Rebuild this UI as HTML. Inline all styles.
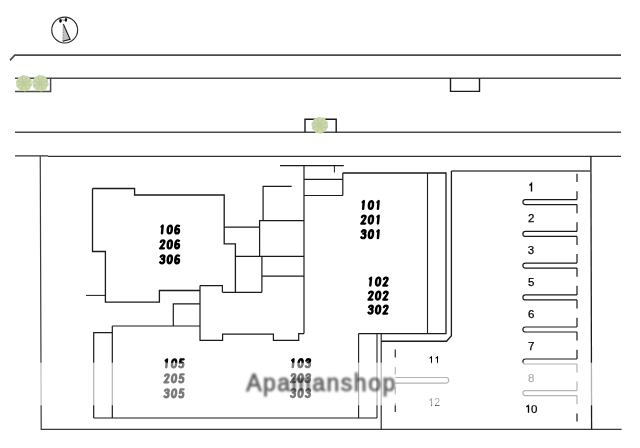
<!DOCTYPE html>
<html><head><meta charset="utf-8"><style>
html,body{margin:0;padding:0;background:#fff;}
body{width:640px;height:448px;overflow:hidden;position:relative;}
svg{position:absolute;left:0;top:0;}
text{font-family:"Liberation Sans",sans-serif;}
.g{filter:url(#nf)}
</style></head><body>
<svg width="640" height="448" viewBox="0 0 640 448">
<defs><filter id="nf" x="-0.05" y="-0.05" width="1.1" height="1.1"><feOffset dx="0" dy="0"/></filter>
<filter id="bl" x="-5%" y="-20%" width="110%" height="140%"><feGaussianBlur stdDeviation="0.85"/></filter></defs>
<rect width="640" height="448" fill="#fff"/>
<path d="M10,60.4 L14.75,55.15 L621,55.15" stroke="#4a4a4a" stroke-width="1.6" fill="none"/><path d="M15,78.3 L621,78.3" stroke="#4a4a4a" stroke-width="1.6" fill="none"/><path d="M15,91.5 L50.6,91.5 L50.6,78.3" stroke="#4a4a4a" stroke-width="1.5" fill="none"/><path d="M450.5,78 L450.5,91.4 L479.5,91.4 L479.5,78.3" stroke="#1a1a1a" stroke-width="1.4" fill="none"/><path d="M15,132.3 L621,132.3" stroke="#4a4a4a" stroke-width="1.6" fill="none"/><path d="M305,132.3 L305,119.25 L336.2,119.25 L336.2,132.3" stroke="#1a1a1a" stroke-width="1.4" fill="none"/><path d="M15,155.9 L48,155.9" stroke="#303030" stroke-width="1.25" fill="none"/><path d="M48,156.45 L621,156.45" stroke="#303030" stroke-width="1.25" fill="none"/><path d="M40.25,156 L41.2,429.35 L621.6,429.35" stroke="#3a3a3a" stroke-width="1.2" fill="none"/><path d="M590.9,156 L591.6,429.3" stroke="#1a1a1a" stroke-width="1.3" fill="none"/><path d="M451.4,171 L591,171" stroke="#4a4a4a" stroke-width="1.7" fill="none"/><path d="M451.4,171 L451.4,335.8 L446.6,341.25 L381.2,341.25" stroke="#1a1a1a" stroke-width="1.3" fill="none"/><path d="M92.5,188.5 L134.6,188.5 L134.6,195 L224.2,195 L224.2,243.8 L235.4,243.8 L235.4,292.3" stroke="#1a1a1a" stroke-width="1.3" fill="none"/><path d="M92.5,188.5 L92.5,251.5 L105.4,251.5 L105.4,302.2 L159.4,302.2 L159.4,290.5 L200,290.5" stroke="#1a1a1a" stroke-width="1.3" fill="none"/><path d="M86,295.4 L105.4,295.4" stroke="#1a1a1a" stroke-width="1.0" fill="none"/><path d="M224.2,227.2 L259.6,227.2" stroke="#1a1a1a" stroke-width="1.2" fill="none"/><path d="M291.7,186.4 L263.1,186.4 L263.1,220.6" stroke="#1a1a1a" stroke-width="1.2" fill="none"/><path d="M304,220.6 L259.6,220.6 L259.6,256.3" stroke="#1a1a1a" stroke-width="1.2" fill="none"/><path d="M235.4,256.3 L304,256.3" stroke="#1a1a1a" stroke-width="1.2" fill="none"/><path d="M261.9,256.3 L261.9,292.3" stroke="#1a1a1a" stroke-width="1.2" fill="none"/><path d="M261.9,276.2 L304,276.2" stroke="#1a1a1a" stroke-width="1.2" fill="none"/><path d="M222.4,292.3 L261.9,292.3" stroke="#1a1a1a" stroke-width="1.2" fill="none"/><path d="M200,285.6 L222.4,285.6 L222.4,292.3" stroke="#1a1a1a" stroke-width="1.2" fill="none"/><path d="M200,285.6 L200,340.3 L222.6,340.3 L222.6,334.1 L273.4,334.1 L273.4,340.3 L298.7,340.3 L298.7,333.6 L304,333.6" stroke="#1a1a1a" stroke-width="1.2" fill="none"/><path d="M173.3,326 L173.3,303.9 L200,303.9" stroke="#1a1a1a" stroke-width="1.2" fill="none"/><path d="M112.3,326 L200,326" stroke="#1a1a1a" stroke-width="1.2" fill="none"/><path d="M93.7,418 L93.7,332.7 L112.3,332.7" stroke="#1a1a1a" stroke-width="1.2" fill="none"/><path d="M93.7,418 L377,418" stroke="#1a1a1a" stroke-width="1.2" fill="none"/><path d="M112.3,326 L112.3,418" stroke="#1a1a1a" stroke-width="1.2" fill="none"/><path d="M304,165.6 L304,333.6" stroke="#1a1a1a" stroke-width="1.2" fill="none"/><path d="M280,165.6 L343.8,165.6" stroke="#1a1a1a" stroke-width="1.2" fill="none"/><path d="M334.4,165.6 L334.4,172.5" stroke="#1a1a1a" stroke-width="1.0" fill="none"/><path d="M304,179.4 L342.8,179.4" stroke="#1a1a1a" stroke-width="1.2" fill="none"/><path d="M304,195.5 L342.8,195.5" stroke="#1a1a1a" stroke-width="1.2" fill="none"/><path d="M342.8,173 L342.8,195.5" stroke="#1a1a1a" stroke-width="1.2" fill="none"/><path d="M342.8,173 L446,173 L446,333.6 L358.6,333.6" stroke="#1a1a1a" stroke-width="1.3" fill="none"/><path d="M427.5,173 L427.5,333.6" stroke="#1a1a1a" stroke-width="1.1" fill="none"/><path d="M358.6,333.6 L358.6,418" stroke="#1a1a1a" stroke-width="1.1" fill="none"/><path d="M377,333.6 L377,418" stroke="#1a1a1a" stroke-width="1.1" fill="none"/><path d="M381.2,333.6 L381.2,429.3" stroke="#1a1a1a" stroke-width="1.1" fill="none"/><path d="M395.25,349.4 L395.25,357.5" stroke="#1a1a1a" stroke-width="1.1" fill="none"/><path d="M395.25,366.9 L395.25,374.4" stroke="#1a1a1a" stroke-width="1.1" fill="none"/><path d="M395.25,386.9 L395.25,394.4" stroke="#1a1a1a" stroke-width="1.1" fill="none"/><path d="M395.25,403 L395.25,411.9" stroke="#1a1a1a" stroke-width="1.1" fill="none"/><path d="M395.3,377.5 L446,377.5 A2.8,2.8 0 0 1 446,383.1 L395.3,383.1" stroke="#1a1a1a" stroke-width="1.1" fill="none"/><path d="M577,199.6 L525.4,199.6 A2.5,2.5 0 0 0 525.4,204.6 L577,204.6" stroke="#1a1a1a" stroke-width="1.2" fill="none"/><path d="M577,231.4 L525.4,231.4 A2.5,2.5 0 0 0 525.4,236.4 L577,236.4" stroke="#1a1a1a" stroke-width="1.2" fill="none"/><path d="M577,263.1 L525.4,263.1 A2.5,2.5 0 0 0 525.4,268.1 L577,268.1" stroke="#1a1a1a" stroke-width="1.2" fill="none"/><path d="M577,294.9 L525.4,294.9 A2.5,2.5 0 0 0 525.4,299.9 L577,299.9" stroke="#1a1a1a" stroke-width="1.2" fill="none"/><path d="M577,327 L525.4,327 A2.5,2.5 0 0 0 525.4,332 L577,332" stroke="#1a1a1a" stroke-width="1.2" fill="none"/><path d="M577,359 L525.4,359 A2.5,2.5 0 0 0 525.4,364 L577,364" stroke="#1a1a1a" stroke-width="1.2" fill="none"/><path d="M577,390.6 L525.4,390.6 A2.5,2.5 0 0 0 525.4,395.6 L577,395.6" stroke="#1a1a1a" stroke-width="1.2" fill="none"/><path d="M577,173.75 L577,181.9" stroke="#1a1a1a" stroke-width="1.2" fill="none"/><path d="M577,191.25 L577,199.6" stroke="#1a1a1a" stroke-width="1.2" fill="none"/><path d="M577,204.6 L577,213.2" stroke="#1a1a1a" stroke-width="1.2" fill="none"/><path d="M577,222.20000000000002 L577,231.4" stroke="#1a1a1a" stroke-width="1.2" fill="none"/><path d="M577,236.4 L577,245.0" stroke="#1a1a1a" stroke-width="1.2" fill="none"/><path d="M577,253.90000000000003 L577,263.1" stroke="#1a1a1a" stroke-width="1.2" fill="none"/><path d="M577,268.1 L577,276.70000000000005" stroke="#1a1a1a" stroke-width="1.2" fill="none"/><path d="M577,285.7 L577,294.9" stroke="#1a1a1a" stroke-width="1.2" fill="none"/><path d="M577,299.9 L577,308.5" stroke="#1a1a1a" stroke-width="1.2" fill="none"/><path d="M577,317.8 L577,327" stroke="#1a1a1a" stroke-width="1.2" fill="none"/><path d="M577,332 L577,340.6" stroke="#1a1a1a" stroke-width="1.2" fill="none"/><path d="M577,349.8 L577,359" stroke="#1a1a1a" stroke-width="1.2" fill="none"/><path d="M577,364 L577,372.6" stroke="#1a1a1a" stroke-width="1.2" fill="none"/><path d="M577,381.40000000000003 L577,390.6" stroke="#1a1a1a" stroke-width="1.2" fill="none"/><path d="M577,395.6 L577,404.20000000000005" stroke="#1a1a1a" stroke-width="1.2" fill="none"/><path d="M577,413.5 L577,421.6" stroke="#1a1a1a" stroke-width="1.2" fill="none"/>
<circle cx="24" cy="83.2" r="7.8" fill="#cad7aa"/><circle cx="30.57" cy="84.53" r="1.56" fill="#cad7aa"/><circle cx="28.54" cy="88.14" r="1.56" fill="#cad7aa"/><circle cx="24.76" cy="89.86" r="1.56" fill="#cad7aa"/><circle cx="20.70" cy="89.04" r="1.56" fill="#cad7aa"/><circle cx="17.90" cy="85.99" r="1.56" fill="#cad7aa"/><circle cx="17.43" cy="81.87" r="1.56" fill="#cad7aa"/><circle cx="19.46" cy="78.26" r="1.56" fill="#cad7aa"/><circle cx="23.24" cy="76.54" r="1.56" fill="#cad7aa"/><circle cx="27.30" cy="77.36" r="1.56" fill="#cad7aa"/><circle cx="30.10" cy="80.41" r="1.56" fill="#cad7aa"/><line x1="24.72" y1="83.50" x2="30.47" y2="85.93" stroke="#a9b98a" stroke-width="0.55"/><line x1="24.29" y1="83.92" x2="26.64" y2="89.71" stroke="#a9b98a" stroke-width="0.55"/><line x1="23.70" y1="83.92" x2="21.27" y2="89.67" stroke="#a9b98a" stroke-width="0.55"/><line x1="23.28" y1="83.49" x2="17.49" y2="85.84" stroke="#a9b98a" stroke-width="0.55"/><line x1="23.28" y1="82.90" x2="17.53" y2="80.47" stroke="#a9b98a" stroke-width="0.55"/><line x1="23.71" y1="82.48" x2="21.36" y2="76.69" stroke="#a9b98a" stroke-width="0.55"/><line x1="24.30" y1="82.48" x2="26.73" y2="76.73" stroke="#a9b98a" stroke-width="0.55"/><line x1="24.72" y1="82.91" x2="30.51" y2="80.56" stroke="#a9b98a" stroke-width="0.55"/><circle cx="40.4" cy="83.2" r="7.9" fill="#cad7aa"/><circle cx="47.06" cy="84.55" r="1.58" fill="#cad7aa"/><circle cx="44.99" cy="88.21" r="1.58" fill="#cad7aa"/><circle cx="41.17" cy="89.95" r="1.58" fill="#cad7aa"/><circle cx="37.06" cy="89.12" r="1.58" fill="#cad7aa"/><circle cx="34.22" cy="86.02" r="1.58" fill="#cad7aa"/><circle cx="33.74" cy="81.85" r="1.58" fill="#cad7aa"/><circle cx="35.81" cy="78.19" r="1.58" fill="#cad7aa"/><circle cx="39.63" cy="76.45" r="1.58" fill="#cad7aa"/><circle cx="43.74" cy="77.28" r="1.58" fill="#cad7aa"/><circle cx="46.58" cy="80.38" r="1.58" fill="#cad7aa"/><line x1="41.13" y1="83.51" x2="46.95" y2="85.97" stroke="#a9b98a" stroke-width="0.55"/><line x1="40.70" y1="83.93" x2="43.07" y2="89.79" stroke="#a9b98a" stroke-width="0.55"/><line x1="40.09" y1="83.93" x2="37.63" y2="89.75" stroke="#a9b98a" stroke-width="0.55"/><line x1="39.67" y1="83.50" x2="33.81" y2="85.87" stroke="#a9b98a" stroke-width="0.55"/><line x1="39.67" y1="82.89" x2="33.85" y2="80.43" stroke="#a9b98a" stroke-width="0.55"/><line x1="40.10" y1="82.47" x2="37.73" y2="76.61" stroke="#a9b98a" stroke-width="0.55"/><line x1="40.71" y1="82.47" x2="43.17" y2="76.65" stroke="#a9b98a" stroke-width="0.55"/><line x1="41.13" y1="82.90" x2="46.99" y2="80.53" stroke="#a9b98a" stroke-width="0.55"/><circle cx="319.8" cy="125.3" r="8.1" fill="#cad7aa"/><circle cx="326.63" cy="126.68" r="1.62" fill="#cad7aa"/><circle cx="324.51" cy="130.43" r="1.62" fill="#cad7aa"/><circle cx="320.59" cy="132.22" r="1.62" fill="#cad7aa"/><circle cx="316.37" cy="131.37" r="1.62" fill="#cad7aa"/><circle cx="313.46" cy="128.19" r="1.62" fill="#cad7aa"/><circle cx="312.97" cy="123.92" r="1.62" fill="#cad7aa"/><circle cx="315.09" cy="120.17" r="1.62" fill="#cad7aa"/><circle cx="319.01" cy="118.38" r="1.62" fill="#cad7aa"/><circle cx="323.23" cy="119.23" r="1.62" fill="#cad7aa"/><circle cx="326.14" cy="122.41" r="1.62" fill="#cad7aa"/><line x1="320.55" y1="125.62" x2="326.51" y2="128.14" stroke="#a9b98a" stroke-width="0.55"/><line x1="320.10" y1="126.05" x2="322.54" y2="132.06" stroke="#a9b98a" stroke-width="0.55"/><line x1="319.48" y1="126.05" x2="316.96" y2="132.01" stroke="#a9b98a" stroke-width="0.55"/><line x1="319.05" y1="125.60" x2="313.04" y2="128.04" stroke="#a9b98a" stroke-width="0.55"/><line x1="319.05" y1="124.98" x2="313.09" y2="122.46" stroke="#a9b98a" stroke-width="0.55"/><line x1="319.50" y1="124.55" x2="317.06" y2="118.54" stroke="#a9b98a" stroke-width="0.55"/><line x1="320.12" y1="124.55" x2="322.64" y2="118.59" stroke="#a9b98a" stroke-width="0.55"/><line x1="320.55" y1="125.00" x2="326.56" y2="122.56" stroke="#a9b98a" stroke-width="0.55"/>

<circle cx="64.7" cy="30.05" r="12.95" fill="none" stroke="#2a2a2a" stroke-width="1.15"/>
<polygon points="63.3,24 70.1,39.4 62.8,41.3" fill="#c0c0c0" stroke="none"/>
<path d="M63.3,24 L70.1,39.4 L62.8,41.3" fill="none" stroke="#1a1a1a" stroke-width="1.1"/>
<path d="M63.3,24 L62.8,41.3" fill="none" stroke="#666" stroke-width="0.7" stroke-dasharray="1,0.6"/>
<ellipse cx="60.5" cy="20.8" rx="1.35" ry="1.85" fill="#0a0a0a"/>
<ellipse cx="65.95" cy="19.8" rx="1.25" ry="1.9" fill="#0a0a0a"/>
<path d="M61.3,19.6 L65.2,20.6" stroke="#666" stroke-width="0.8"/>

<g class="g"><path d="M529.5,185.4 L531.5,183.5 L531.5,191.4" stroke="#000" stroke-width="1.4" fill="none" stroke-linejoin="miter"/><text x="531.15" y="221.7" font-size="11.5" fill="#000" text-anchor="middle" stroke="#000" stroke-width="0.25">2</text><text x="531.05" y="253.6" font-size="11.5" fill="#000" text-anchor="middle" stroke="#000" stroke-width="0.25">3</text><text x="531.15" y="285.9" font-size="11.5" fill="#000" text-anchor="middle" stroke="#000" stroke-width="0.25">5</text><text x="531.15" y="317.9" font-size="11.5" fill="#000" text-anchor="middle" stroke="#000" stroke-width="0.25">6</text><text x="531.3" y="349.6" font-size="11.5" fill="#000" text-anchor="middle" stroke="#000" stroke-width="0.25">7</text><text x="531.1" y="381.8" font-size="11.5" fill="#000" text-anchor="middle" stroke="#000" stroke-width="0.25">8</text><path d="M526.4,406.9 L528.5,405.0 L528.5,412.8" stroke="#000" stroke-width="1.35" fill="none" stroke-linejoin="miter"/><text x="534.3" y="412.8" font-size="11.5" fill="#000" text-anchor="middle" stroke="#000" stroke-width="0.25">0</text><path d="M429.6,358.4 L431.5,356.8 L431.5,363.6" stroke="#000" stroke-width="1.05" fill="none" stroke-linejoin="miter"/><path d="M435.6,358.4 L437.5,356.8 L437.5,363.6" stroke="#000" stroke-width="1.05" fill="none" stroke-linejoin="miter"/><path d="M429.6,400.5 L431.5,398.9 L431.5,405.8" stroke="#000" stroke-width="1.05" fill="none" stroke-linejoin="miter"/><text x="437.3" y="405.8" font-size="10" fill="#000" text-anchor="middle" >2</text></g>
<rect x="0" y="362.7" width="640" height="42.6" fill="#fff" fill-opacity="0.37"/>
<g transform="translate(158.95,234.50) skewX(-5)" fill="none" stroke="#000" stroke-width="2.3" stroke-linecap="round" stroke-linejoin="round"><path transform="translate(0.00,0) scale(1.07,1)" d="M1.75,-7.85 L2.75,-8.95 L2.75,-1.05"/><path transform="translate(7.40,0) scale(1.07,1)" d="M2.8,-8.95 C1.6,-8.95 0.9,-7.2 0.9,-5 C0.9,-2.8 1.6,-1.05 2.8,-1.05 C4.0,-1.05 4.7,-2.8 4.7,-5 C4.7,-7.2 4.0,-8.95 2.8,-8.95 Z"/><path transform="translate(14.80,0) scale(1.07,1)" d="M4.2,-8.55 C3.85,-8.85 3.4,-8.95 2.95,-8.95 C1.75,-8.95 1.05,-7.2 1.05,-4.6 C1.05,-2.4 1.7,-1.05 2.85,-1.05 C3.9,-1.05 4.6,-2.0 4.6,-3.3 C4.6,-4.6 3.9,-5.5 2.85,-5.5 C2.0,-5.5 1.35,-4.95 1.1,-4.1"/></g><g transform="translate(158.95,249.40) skewX(-5)" fill="none" stroke="#000" stroke-width="2.3" stroke-linecap="round" stroke-linejoin="round"><path transform="translate(0.00,0) scale(1.07,1)" d="M1.15,-7.5 C1.35,-8.45 2.0,-8.95 2.8,-8.95 C3.8,-8.95 4.5,-8.3 4.5,-7.3 C4.5,-6.2 3.7,-5.1 1.1,-1.05 L4.6,-1.05"/><path transform="translate(7.40,0) scale(1.07,1)" d="M2.8,-8.95 C1.6,-8.95 0.9,-7.2 0.9,-5 C0.9,-2.8 1.6,-1.05 2.8,-1.05 C4.0,-1.05 4.7,-2.8 4.7,-5 C4.7,-7.2 4.0,-8.95 2.8,-8.95 Z"/><path transform="translate(14.80,0) scale(1.07,1)" d="M4.2,-8.55 C3.85,-8.85 3.4,-8.95 2.95,-8.95 C1.75,-8.95 1.05,-7.2 1.05,-4.6 C1.05,-2.4 1.7,-1.05 2.85,-1.05 C3.9,-1.05 4.6,-2.0 4.6,-3.3 C4.6,-4.6 3.9,-5.5 2.85,-5.5 C2.0,-5.5 1.35,-4.95 1.1,-4.1"/></g><g transform="translate(158.95,264.30) skewX(-5)" fill="none" stroke="#000" stroke-width="2.3" stroke-linecap="round" stroke-linejoin="round"><path transform="translate(0.00,0) scale(1.07,1)" d="M1.1,-7.6 C1.4,-8.5 2.0,-8.95 2.8,-8.95 C3.8,-8.95 4.45,-8.3 4.45,-7.35 C4.45,-6.3 3.7,-5.5 2.5,-5.5 C3.8,-5.5 4.6,-4.6 4.6,-3.3 C4.6,-1.9 3.8,-1.05 2.7,-1.05 C1.9,-1.05 1.3,-1.4 1.0,-2.0"/><path transform="translate(7.40,0) scale(1.07,1)" d="M2.8,-8.95 C1.6,-8.95 0.9,-7.2 0.9,-5 C0.9,-2.8 1.6,-1.05 2.8,-1.05 C4.0,-1.05 4.7,-2.8 4.7,-5 C4.7,-7.2 4.0,-8.95 2.8,-8.95 Z"/><path transform="translate(14.80,0) scale(1.07,1)" d="M4.2,-8.55 C3.85,-8.85 3.4,-8.95 2.95,-8.95 C1.75,-8.95 1.05,-7.2 1.05,-4.6 C1.05,-2.4 1.7,-1.05 2.85,-1.05 C3.9,-1.05 4.6,-2.0 4.6,-3.3 C4.6,-4.6 3.9,-5.5 2.85,-5.5 C2.0,-5.5 1.35,-4.95 1.1,-4.1"/></g><g transform="translate(360.10,210.00) skewX(-5)" fill="none" stroke="#000" stroke-width="2.3" stroke-linecap="round" stroke-linejoin="round"><path transform="translate(0.00,0) scale(1.07,1)" d="M1.75,-7.85 L2.75,-8.95 L2.75,-1.05"/><path transform="translate(7.40,0) scale(1.07,1)" d="M2.8,-8.95 C1.6,-8.95 0.9,-7.2 0.9,-5 C0.9,-2.8 1.6,-1.05 2.8,-1.05 C4.0,-1.05 4.7,-2.8 4.7,-5 C4.7,-7.2 4.0,-8.95 2.8,-8.95 Z"/><path transform="translate(14.80,0) scale(1.07,1)" d="M1.75,-7.85 L2.75,-8.95 L2.75,-1.05"/></g><g transform="translate(360.10,224.60) skewX(-5)" fill="none" stroke="#000" stroke-width="2.3" stroke-linecap="round" stroke-linejoin="round"><path transform="translate(0.00,0) scale(1.07,1)" d="M1.15,-7.5 C1.35,-8.45 2.0,-8.95 2.8,-8.95 C3.8,-8.95 4.5,-8.3 4.5,-7.3 C4.5,-6.2 3.7,-5.1 1.1,-1.05 L4.6,-1.05"/><path transform="translate(7.40,0) scale(1.07,1)" d="M2.8,-8.95 C1.6,-8.95 0.9,-7.2 0.9,-5 C0.9,-2.8 1.6,-1.05 2.8,-1.05 C4.0,-1.05 4.7,-2.8 4.7,-5 C4.7,-7.2 4.0,-8.95 2.8,-8.95 Z"/><path transform="translate(14.80,0) scale(1.07,1)" d="M1.75,-7.85 L2.75,-8.95 L2.75,-1.05"/></g><g transform="translate(360.10,239.20) skewX(-5)" fill="none" stroke="#000" stroke-width="2.3" stroke-linecap="round" stroke-linejoin="round"><path transform="translate(0.00,0) scale(1.07,1)" d="M1.1,-7.6 C1.4,-8.5 2.0,-8.95 2.8,-8.95 C3.8,-8.95 4.45,-8.3 4.45,-7.35 C4.45,-6.3 3.7,-5.5 2.5,-5.5 C3.8,-5.5 4.6,-4.6 4.6,-3.3 C4.6,-1.9 3.8,-1.05 2.7,-1.05 C1.9,-1.05 1.3,-1.4 1.0,-2.0"/><path transform="translate(7.40,0) scale(1.07,1)" d="M2.8,-8.95 C1.6,-8.95 0.9,-7.2 0.9,-5 C0.9,-2.8 1.6,-1.05 2.8,-1.05 C4.0,-1.05 4.7,-2.8 4.7,-5 C4.7,-7.2 4.0,-8.95 2.8,-8.95 Z"/><path transform="translate(14.80,0) scale(1.07,1)" d="M1.75,-7.85 L2.75,-8.95 L2.75,-1.05"/></g><g transform="translate(367.30,286.60) skewX(-5)" fill="none" stroke="#000" stroke-width="2.3" stroke-linecap="round" stroke-linejoin="round"><path transform="translate(0.00,0) scale(1.07,1)" d="M1.75,-7.85 L2.75,-8.95 L2.75,-1.05"/><path transform="translate(7.40,0) scale(1.07,1)" d="M2.8,-8.95 C1.6,-8.95 0.9,-7.2 0.9,-5 C0.9,-2.8 1.6,-1.05 2.8,-1.05 C4.0,-1.05 4.7,-2.8 4.7,-5 C4.7,-7.2 4.0,-8.95 2.8,-8.95 Z"/><path transform="translate(14.80,0) scale(1.07,1)" d="M1.15,-7.5 C1.35,-8.45 2.0,-8.95 2.8,-8.95 C3.8,-8.95 4.5,-8.3 4.5,-7.3 C4.5,-6.2 3.7,-5.1 1.1,-1.05 L4.6,-1.05"/></g><g transform="translate(367.30,300.60) skewX(-5)" fill="none" stroke="#000" stroke-width="2.3" stroke-linecap="round" stroke-linejoin="round"><path transform="translate(0.00,0) scale(1.07,1)" d="M1.15,-7.5 C1.35,-8.45 2.0,-8.95 2.8,-8.95 C3.8,-8.95 4.5,-8.3 4.5,-7.3 C4.5,-6.2 3.7,-5.1 1.1,-1.05 L4.6,-1.05"/><path transform="translate(7.40,0) scale(1.07,1)" d="M2.8,-8.95 C1.6,-8.95 0.9,-7.2 0.9,-5 C0.9,-2.8 1.6,-1.05 2.8,-1.05 C4.0,-1.05 4.7,-2.8 4.7,-5 C4.7,-7.2 4.0,-8.95 2.8,-8.95 Z"/><path transform="translate(14.80,0) scale(1.07,1)" d="M1.15,-7.5 C1.35,-8.45 2.0,-8.95 2.8,-8.95 C3.8,-8.95 4.5,-8.3 4.5,-7.3 C4.5,-6.2 3.7,-5.1 1.1,-1.05 L4.6,-1.05"/></g><g transform="translate(367.30,314.60) skewX(-5)" fill="none" stroke="#000" stroke-width="2.3" stroke-linecap="round" stroke-linejoin="round"><path transform="translate(0.00,0) scale(1.07,1)" d="M1.1,-7.6 C1.4,-8.5 2.0,-8.95 2.8,-8.95 C3.8,-8.95 4.45,-8.3 4.45,-7.35 C4.45,-6.3 3.7,-5.5 2.5,-5.5 C3.8,-5.5 4.6,-4.6 4.6,-3.3 C4.6,-1.9 3.8,-1.05 2.7,-1.05 C1.9,-1.05 1.3,-1.4 1.0,-2.0"/><path transform="translate(7.40,0) scale(1.07,1)" d="M2.8,-8.95 C1.6,-8.95 0.9,-7.2 0.9,-5 C0.9,-2.8 1.6,-1.05 2.8,-1.05 C4.0,-1.05 4.7,-2.8 4.7,-5 C4.7,-7.2 4.0,-8.95 2.8,-8.95 Z"/><path transform="translate(14.80,0) scale(1.07,1)" d="M1.15,-7.5 C1.35,-8.45 2.0,-8.95 2.8,-8.95 C3.8,-8.95 4.5,-8.3 4.5,-7.3 C4.5,-6.2 3.7,-5.1 1.1,-1.05 L4.6,-1.05"/></g><g transform="translate(163.25,368.40) skewX(-5)" fill="none" stroke="#000" stroke-width="2.3" stroke-linecap="round" stroke-linejoin="round"><path transform="translate(0.00,0) scale(1.07,1)" d="M1.75,-7.85 L2.75,-8.95 L2.75,-1.05"/><path transform="translate(7.40,0) scale(1.07,1)" d="M2.8,-8.95 C1.6,-8.95 0.9,-7.2 0.9,-5 C0.9,-2.8 1.6,-1.05 2.8,-1.05 C4.0,-1.05 4.7,-2.8 4.7,-5 C4.7,-7.2 4.0,-8.95 2.8,-8.95 Z"/><path transform="translate(14.80,0) scale(1.07,1)" d="M4.4,-8.95 L1.7,-8.95 L1.35,-5.3 C1.8,-5.7 2.3,-5.85 2.8,-5.85 C3.9,-5.85 4.6,-4.8 4.6,-3.4 C4.6,-1.9 3.8,-1.05 2.6,-1.05 C1.9,-1.05 1.3,-1.4 1.0,-1.95"/></g><g transform="translate(163.25,383.35) skewX(-5)" fill="none" stroke="#000" stroke-width="2.3" stroke-linecap="round" stroke-linejoin="round"><path transform="translate(0.00,0) scale(1.07,1)" d="M1.15,-7.5 C1.35,-8.45 2.0,-8.95 2.8,-8.95 C3.8,-8.95 4.5,-8.3 4.5,-7.3 C4.5,-6.2 3.7,-5.1 1.1,-1.05 L4.6,-1.05"/><path transform="translate(7.40,0) scale(1.07,1)" d="M2.8,-8.95 C1.6,-8.95 0.9,-7.2 0.9,-5 C0.9,-2.8 1.6,-1.05 2.8,-1.05 C4.0,-1.05 4.7,-2.8 4.7,-5 C4.7,-7.2 4.0,-8.95 2.8,-8.95 Z"/><path transform="translate(14.80,0) scale(1.07,1)" d="M4.4,-8.95 L1.7,-8.95 L1.35,-5.3 C1.8,-5.7 2.3,-5.85 2.8,-5.85 C3.9,-5.85 4.6,-4.8 4.6,-3.4 C4.6,-1.9 3.8,-1.05 2.6,-1.05 C1.9,-1.05 1.3,-1.4 1.0,-1.95"/></g><g transform="translate(163.25,398.30) skewX(-5)" fill="none" stroke="#000" stroke-width="2.3" stroke-linecap="round" stroke-linejoin="round"><path transform="translate(0.00,0) scale(1.07,1)" d="M1.1,-7.6 C1.4,-8.5 2.0,-8.95 2.8,-8.95 C3.8,-8.95 4.45,-8.3 4.45,-7.35 C4.45,-6.3 3.7,-5.5 2.5,-5.5 C3.8,-5.5 4.6,-4.6 4.6,-3.3 C4.6,-1.9 3.8,-1.05 2.7,-1.05 C1.9,-1.05 1.3,-1.4 1.0,-2.0"/><path transform="translate(7.40,0) scale(1.07,1)" d="M2.8,-8.95 C1.6,-8.95 0.9,-7.2 0.9,-5 C0.9,-2.8 1.6,-1.05 2.8,-1.05 C4.0,-1.05 4.7,-2.8 4.7,-5 C4.7,-7.2 4.0,-8.95 2.8,-8.95 Z"/><path transform="translate(14.80,0) scale(1.07,1)" d="M4.4,-8.95 L1.7,-8.95 L1.35,-5.3 C1.8,-5.7 2.3,-5.85 2.8,-5.85 C3.9,-5.85 4.6,-4.8 4.6,-3.4 C4.6,-1.9 3.8,-1.05 2.6,-1.05 C1.9,-1.05 1.3,-1.4 1.0,-1.95"/></g><g transform="translate(289.75,368.20) skewX(-5)" fill="none" stroke="#000" stroke-width="2.3" stroke-linecap="round" stroke-linejoin="round"><path transform="translate(0.00,0) scale(1.07,1)" d="M1.75,-7.85 L2.75,-8.95 L2.75,-1.05"/><path transform="translate(7.40,0) scale(1.07,1)" d="M2.8,-8.95 C1.6,-8.95 0.9,-7.2 0.9,-5 C0.9,-2.8 1.6,-1.05 2.8,-1.05 C4.0,-1.05 4.7,-2.8 4.7,-5 C4.7,-7.2 4.0,-8.95 2.8,-8.95 Z"/><path transform="translate(14.80,0) scale(1.07,1)" d="M1.1,-7.6 C1.4,-8.5 2.0,-8.95 2.8,-8.95 C3.8,-8.95 4.45,-8.3 4.45,-7.35 C4.45,-6.3 3.7,-5.5 2.5,-5.5 C3.8,-5.5 4.6,-4.6 4.6,-3.3 C4.6,-1.9 3.8,-1.05 2.7,-1.05 C1.9,-1.05 1.3,-1.4 1.0,-2.0"/></g><g transform="translate(289.75,383.15) skewX(-5)" fill="none" stroke="#000" stroke-width="2.3" stroke-linecap="round" stroke-linejoin="round"><path transform="translate(0.00,0) scale(1.07,1)" d="M1.15,-7.5 C1.35,-8.45 2.0,-8.95 2.8,-8.95 C3.8,-8.95 4.5,-8.3 4.5,-7.3 C4.5,-6.2 3.7,-5.1 1.1,-1.05 L4.6,-1.05"/><path transform="translate(7.40,0) scale(1.07,1)" d="M2.8,-8.95 C1.6,-8.95 0.9,-7.2 0.9,-5 C0.9,-2.8 1.6,-1.05 2.8,-1.05 C4.0,-1.05 4.7,-2.8 4.7,-5 C4.7,-7.2 4.0,-8.95 2.8,-8.95 Z"/><path transform="translate(14.80,0) scale(1.07,1)" d="M1.1,-7.6 C1.4,-8.5 2.0,-8.95 2.8,-8.95 C3.8,-8.95 4.45,-8.3 4.45,-7.35 C4.45,-6.3 3.7,-5.5 2.5,-5.5 C3.8,-5.5 4.6,-4.6 4.6,-3.3 C4.6,-1.9 3.8,-1.05 2.7,-1.05 C1.9,-1.05 1.3,-1.4 1.0,-2.0"/></g><g transform="translate(289.75,398.10) skewX(-5)" fill="none" stroke="#000" stroke-width="2.3" stroke-linecap="round" stroke-linejoin="round"><path transform="translate(0.00,0) scale(1.07,1)" d="M1.1,-7.6 C1.4,-8.5 2.0,-8.95 2.8,-8.95 C3.8,-8.95 4.45,-8.3 4.45,-7.35 C4.45,-6.3 3.7,-5.5 2.5,-5.5 C3.8,-5.5 4.6,-4.6 4.6,-3.3 C4.6,-1.9 3.8,-1.05 2.7,-1.05 C1.9,-1.05 1.3,-1.4 1.0,-2.0"/><path transform="translate(7.40,0) scale(1.07,1)" d="M2.8,-8.95 C1.6,-8.95 0.9,-7.2 0.9,-5 C0.9,-2.8 1.6,-1.05 2.8,-1.05 C4.0,-1.05 4.7,-2.8 4.7,-5 C4.7,-7.2 4.0,-8.95 2.8,-8.95 Z"/><path transform="translate(14.80,0) scale(1.07,1)" d="M1.1,-7.6 C1.4,-8.5 2.0,-8.95 2.8,-8.95 C3.8,-8.95 4.45,-8.3 4.45,-7.35 C4.45,-6.3 3.7,-5.5 2.5,-5.5 C3.8,-5.5 4.6,-4.6 4.6,-3.3 C4.6,-1.9 3.8,-1.05 2.7,-1.05 C1.9,-1.05 1.3,-1.4 1.0,-2.0"/></g>
<rect x="0" y="362.7" width="640" height="42.6" fill="#fff" fill-opacity="0.48"/>
<g filter="url(#bl)" style="mix-blend-mode:multiply"><text x="246.2" y="390.8" font-size="23" fill="#626262" stroke="#626262" stroke-width="0.8" letter-spacing="1.5">Apamanshop</text></g>
</svg>
</body></html>
